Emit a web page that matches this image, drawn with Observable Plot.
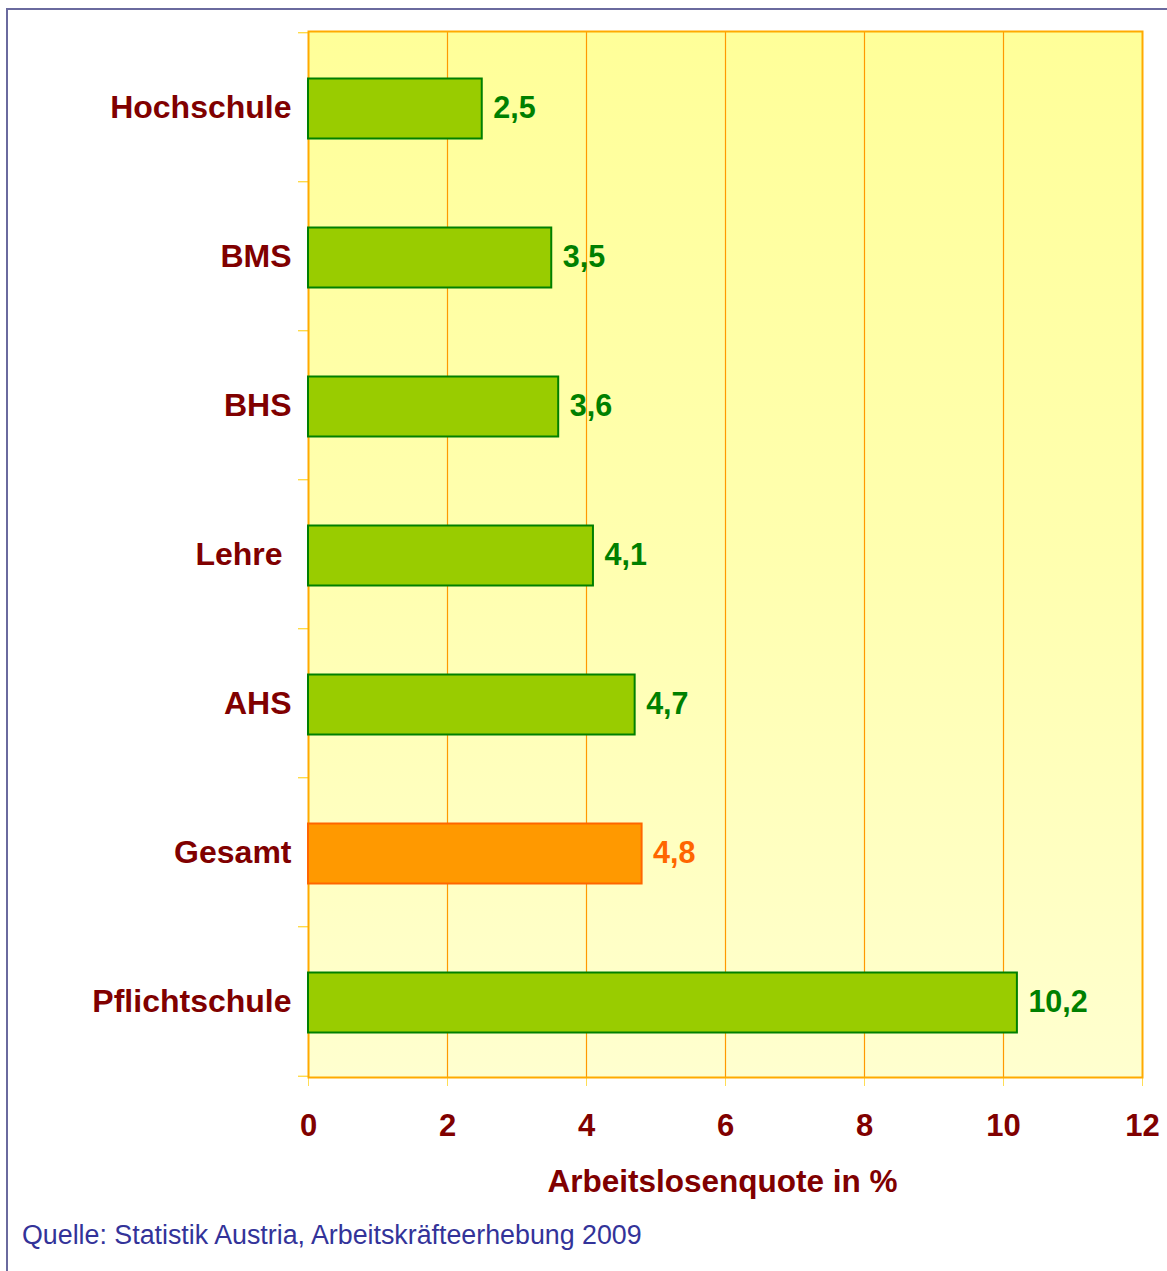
<!DOCTYPE html>
<html>
<head>
<meta charset="utf-8">
<script src="https://cdn.jsdelivr.net/npm/d3@7"></script>
<script src="https://cdn.jsdelivr.net/npm/@observablehq/plot@0.6"></script>
<style>
  html, body { margin: 0; padding: 0; background: #fff; }
  #wrap { position: relative; width: 1167px; height: 1271px; overflow: hidden; }
  #border { position: absolute; left: 6px; top: 8px; width: 1300px; height: 1400px; border-left: 2px solid #6a6a9e; border-top: 2px solid #6a6a9e; }
  #chart { position: absolute; left: 0; top: 0; }
  #caption { position: absolute; left: 22px; top: 1220px; font-family: "Liberation Sans", Arial, sans-serif; font-size: 26.8px; color: #333399; white-space: nowrap; }
</style>
</head>
<body>
<div id="wrap">
  <div id="border"></div>
  <div id="chart"></div>
  <div id="caption">Quelle: Statistik Austria, Arbeitskräfteerhebung 2009</div>
</div>
<script>
const categories = ["Hochschule", "BMS", "BHS", "Lehre", "AHS", "Gesamt", "Pflichtschule"];
const values = [2.5, 3.5, 3.6, 4.1, 4.7, 4.8, 10.2];
const highlight = "Gesamt";
const xTicks = [0, 2, 4, 6, 8, 10, 12];
const xLabel = "Arbeitslosenquote in %";

const data = categories.map((c, i) => ({category: c, value: values[i], hi: c === highlight}));
const fmt = v => v.toFixed(1).replace(".", ",");

const W = 1167, H = 1215;
const mT = 31, mL = 308, mR = 25, mB = H - 1077;
const step = (H - mT - mB) / categories.length;

const plot = Plot.plot({
  width: W,
  height: H,
  marginTop: mT,
  marginLeft: mL,
  marginRight: mR,
  marginBottom: mB,
  style: {fontFamily: "'Liberation Sans', Arial, sans-serif", fontSize: "32px", fontWeight: "bold", background: "transparent", overflow: "visible"},
  x: {domain: [0, 12], label: null},
  y: {domain: categories, paddingInner: 0.6, paddingOuter: 0.3, label: null},
  marks: [
    Plot.frame({fill: "url(#bgGrad)", stroke: null}),
    Plot.gridX(xTicks.slice(1, -1), {stroke: "#ff9900", strokeOpacity: 1, strokeWidth: 1.2}),
    Plot.axisY({tickSize: 0, tickPadding: 17, fill: "#800000", label: null,
      tickFormat: d => d === "Lehre" ? "Lehre\u00a0" : d}),
    Plot.axisY({tickSize: 10, text: null, stroke: "#ffcc00", dy: -step / 2, label: null}),
    Plot.axisY({ticks: [categories[categories.length - 1]], tickSize: 10, text: null, stroke: "#ffcc00", dy: step / 2, label: null}),
    Plot.axisX({ticks: xTicks, tickSize: 9, tickPadding: 27, stroke: "#ffdd55", fill: "#800000", label: null, fontSize: 31}),
    Plot.frame({stroke: "#ffaa00", strokeWidth: 2, fill: null}),
    Plot.barX(data, {
      y: "category", x: "value",
      fill: d => d.hi ? "#ff9900" : "#99cc00",
      stroke: d => d.hi ? "#ff6600" : "#008000",
      strokeWidth: 2,
      dy: 1.5
    }),
    Plot.text(data, {
      y: "category", x: "value",
      text: d => fmt(d.value),
      textAnchor: "start", dx: 11, dy: 1,
      fill: d => d.hi ? "#ff6600" : "#008000",
      fontSize: 30.5
    }),
    Plot.text([xLabel], {frameAnchor: "bottom", text: d => d, dy: 104, dx: -3, fill: "#800000", lineAnchor: "middle", fontSize: 31.5})
  ]
});

// gradient definition for the plot background
const ns = "http://www.w3.org/2000/svg";
const defs = document.createElementNS(ns, "defs");
const grad = document.createElementNS(ns, "linearGradient");
grad.setAttribute("id", "bgGrad");
grad.setAttribute("x1", "0"); grad.setAttribute("y1", "0");
grad.setAttribute("x2", "0"); grad.setAttribute("y2", "1");
[["0", "#ffff99"], ["0.5", "#ffffaf"], ["1", "#ffffcf"]].forEach(([o, c]) => {
  const s = document.createElementNS(ns, "stop");
  s.setAttribute("offset", o); s.setAttribute("stop-color", c);
  grad.appendChild(s);
});
defs.appendChild(grad);
plot.insertBefore(defs, plot.firstChild);

document.getElementById("chart").appendChild(plot);
</script>
</body>
</html>
